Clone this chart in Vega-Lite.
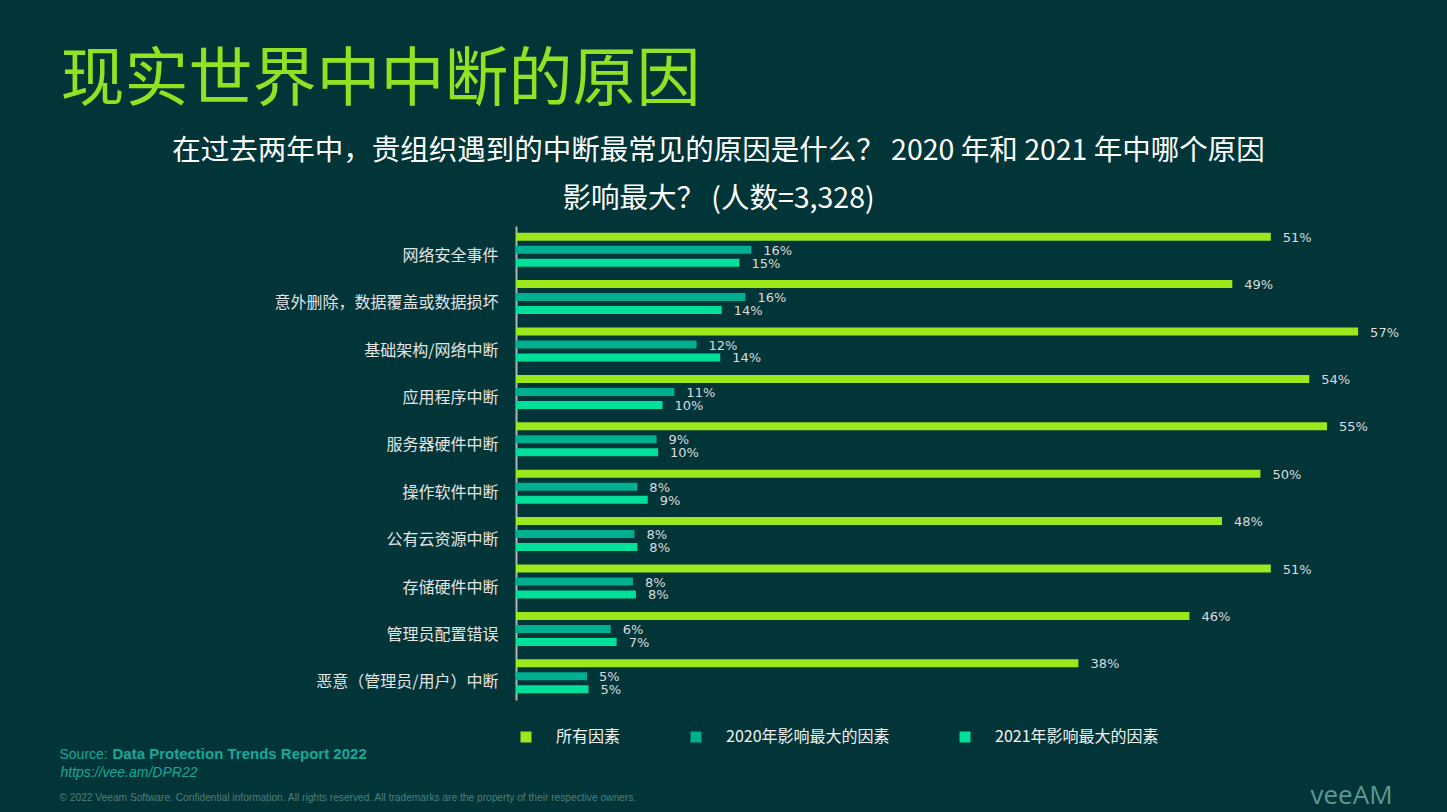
{
  "$schema": "https://vega.github.io/schema/vega-lite/v6.json",
  "autosize": "none",
  "width": 888,
  "height": 474,
  "padding": {"left": 516, "top": 226, "right": 43, "bottom": 112},
  "background": "#013538",
  "config": {
    "view": {"stroke": null},
    "font": "Noto Sans CJK SC",
    "axis": {"grid": false, "titleLimit": 3000, "titleAngle": 0}
  },
  "data": {
    "values": [
      {"cause": "网络安全事件", "series": "所有因素", "value": 51.0, "label": "51%"},
      {"cause": "网络安全事件", "series": "2020年影响最大的因素", "value": 15.9, "label": "16%"},
      {"cause": "网络安全事件", "series": "2021年影响最大的因素", "value": 15.1, "label": "15%"},
      {"cause": "意外删除，数据覆盖或数据损坏", "series": "所有因素", "value": 48.4, "label": "49%"},
      {"cause": "意外删除，数据覆盖或数据损坏", "series": "2020年影响最大的因素", "value": 15.5, "label": "16%"},
      {"cause": "意外删除，数据覆盖或数据损坏", "series": "2021年影响最大的因素", "value": 13.9, "label": "14%"},
      {"cause": "基础架构/网络中断", "series": "所有因素", "value": 56.9, "label": "57%"},
      {"cause": "基础架构/网络中断", "series": "2020年影响最大的因素", "value": 12.2, "label": "12%"},
      {"cause": "基础架构/网络中断", "series": "2021年影响最大的因素", "value": 13.8, "label": "14%"},
      {"cause": "应用程序中断", "series": "所有因素", "value": 53.6, "label": "54%"},
      {"cause": "应用程序中断", "series": "2020年影响最大的因素", "value": 10.7, "label": "11%"},
      {"cause": "应用程序中断", "series": "2021年影响最大的因素", "value": 9.9, "label": "10%"},
      {"cause": "服务器硬件中断", "series": "所有因素", "value": 54.8, "label": "55%"},
      {"cause": "服务器硬件中断", "series": "2020年影响最大的因素", "value": 9.5, "label": "9%"},
      {"cause": "服务器硬件中断", "series": "2021年影响最大的因素", "value": 9.6, "label": "10%"},
      {"cause": "操作软件中断", "series": "所有因素", "value": 50.3, "label": "50%"},
      {"cause": "操作软件中断", "series": "2020年影响最大的因素", "value": 8.2, "label": "8%"},
      {"cause": "操作软件中断", "series": "2021年影响最大的因素", "value": 8.9, "label": "9%"},
      {"cause": "公有云资源中断", "series": "所有因素", "value": 47.7, "label": "48%"},
      {"cause": "公有云资源中断", "series": "2020年影响最大的因素", "value": 8.0, "label": "8%"},
      {"cause": "公有云资源中断", "series": "2021年影响最大的因素", "value": 8.2, "label": "8%"},
      {"cause": "存储硬件中断", "series": "所有因素", "value": 51.0, "label": "51%"},
      {"cause": "存储硬件中断", "series": "2020年影响最大的因素", "value": 7.9, "label": "8%"},
      {"cause": "存储硬件中断", "series": "2021年影响最大的因素", "value": 8.1, "label": "8%"},
      {"cause": "管理员配置错误", "series": "所有因素", "value": 45.5, "label": "46%"},
      {"cause": "管理员配置错误", "series": "2020年影响最大的因素", "value": 6.4, "label": "6%"},
      {"cause": "管理员配置错误", "series": "2021年影响最大的因素", "value": 6.8, "label": "7%"},
      {"cause": "恶意（管理员/用户）中断", "series": "所有因素", "value": 38.0, "label": "38%"},
      {"cause": "恶意（管理员/用户）中断", "series": "2020年影响最大的因素", "value": 4.8, "label": "5%"},
      {"cause": "恶意（管理员/用户）中断", "series": "2021年影响最大的因素", "value": 4.9, "label": "5%"}
    ]
  },
  "resolve": {"axis": {"x": "independent", "y": "independent"}},
  "layer": [
    {
      "mark": {"type": "bar"},
      "encoding": {
        "y": {
          "field": "cause", "type": "nominal", "sort": null,
          "scale": {"paddingInner": 0.283, "paddingOuter": 0.1415},
          "axis": {
            "orient": "left", "ticks": false, "domain": true, "domainColor": "#B4B4B4", "domainWidth": 2,
            "labelColor": "#E4E4E4", "labelFontSize": 16, "labelFont": "Noto Sans CJK SC", "labelPadding": 18,
            "labelLimit": 400, "labelOffset": 6,
            "title": "https://vee.am/DPR22", "titleFont": "Liberation Sans", "titleFontStyle": "italic",
            "titleFontWeight": "normal", "titleFontSize": 14, "titleColor": "#19A898",
            "titleAlign": "left", "titleBaseline": "alphabetic", "titleX": -456, "titleY": 550
          }
        },
        "yOffset": {
          "field": "series", "type": "nominal",
          "scale": {"domain": ["所有因素", "2020年影响最大的因素", "2021年影响最大的因素"], "paddingInner": 0.385, "paddingOuter": 0}
        },
        "x": {
          "field": "value", "type": "quantitative",
          "scale": {"domain": [0, 60], "nice": false},
          "axis": {
            "orient": "top", "labels": false, "ticks": false, "domain": false,
            "title": ["在过去两年中，贵组织遇到的中断最常见的原因是什么？ 2020 年和 2021 年中哪个原因", "影响最大？ (人数=3,328)"],
            "titleFont": "Noto Sans CJK SC", "titleFontSize": 28.5, "titleFontWeight": "normal", "titleColor": "#FFFFFF",
            "titleAlign": "center", "titleBaseline": "alphabetic", "titleLineHeight": 48, "titleX": 202, "titleY": -67
          }
        },
        "color": {
          "field": "series", "type": "nominal",
          "scale": {"domain": ["所有因素", "2020年影响最大的因素", "2021年影响最大的因素"], "range": ["#9CE81C", "#00AF90", "#00E09A"]},
          "legend": {
            "orient": "none", "direction": "horizontal", "legendX": 2, "legendY": 503, "title": null,
            "symbolType": "square", "symbolSize": 121, "symbolStrokeWidth": 0,
            "labelFont": "Noto Sans CJK SC", "labelFontSize": 16, "labelColor": "#F2F2F2", "labelOffset": 22,
            "columnPadding": 67, "labelLimit": 400
          }
        }
      }
    },
    {
      "transform": [{"filter": "datum.series === '所有因素'"}],
      "mark": {"type": "text", "align": "left", "baseline": "middle", "dx": 12, "dy": 1, "font": "DejaVu Sans", "fontSize": 13, "color": "#DCDCDC"},
      "encoding": {
        "y": {"field": "cause", "type": "nominal", "sort": null, "axis": {"orient": "right", "labels": false, "ticks": false, "domain": false,
          "title": "veeAM", "titleFont": "Open Sans", "titleFontSize": 26, "titleFontWeight": "normal", "titleColor": "#5F9993",
          "titleAlign": "left", "titleBaseline": "alphabetic", "titleX": -94, "titleY": 577}},
        "yOffset": {"field": "series", "type": "nominal", "scale": {"domain": ["所有因素", "2020年影响最大的因素", "2021年影响最大的因素"], "paddingInner": 0.385, "paddingOuter": 0}},
        "x": {"field": "value", "type": "quantitative", "axis": {"orient": "top", "labels": false, "ticks": false, "domain": false,
          "title": "现实世界中中断的原因", "titleFont": "Noto Sans CJK SC", "titleFontSize": 64, "titleFontWeight": "normal", "titleColor": "#8FE322",
          "titleAlign": "left", "titleBaseline": "alphabetic", "titleX": -456, "titleY": -127}},
        "text": {"field": "label"}
      }
    },
    {
      "transform": [{"filter": "datum.series === '2020年影响最大的因素'"}],
      "mark": {"type": "text", "align": "left", "baseline": "middle", "dx": 12, "dy": 1, "font": "DejaVu Sans", "fontSize": 13, "color": "#DCDCDC"},
      "encoding": {
        "y": {"field": "cause", "type": "nominal", "sort": null, "axis": {"orient": "right", "labels": false, "ticks": false, "domain": false,
          "title": "© 2022 Veeam Software. Confidential information. All rights reserved. All trademarks are the property of their respective owners.",
          "titleFont": "Liberation Sans", "titleFontSize": 10.2, "titleFontWeight": "normal", "titleColor": "#4F7F7C",
          "titleAlign": "left", "titleBaseline": "alphabetic", "titleX": -1345, "titleY": 574}},
        "yOffset": {"field": "series", "type": "nominal", "scale": {"domain": ["所有因素", "2020年影响最大的因素", "2021年影响最大的因素"], "paddingInner": 0.385, "paddingOuter": 0}},
        "x": {"field": "value", "type": "quantitative", "axis": {"orient": "bottom", "labels": false, "ticks": false, "domain": false,
          "title": "Source:", "titleFont": "Liberation Sans", "titleFontSize": 14, "titleFontWeight": "normal", "titleColor": "#19A898",
          "titleAlign": "left", "titleBaseline": "alphabetic", "titleX": -457, "titleY": 58}},
        "text": {"field": "label"}
      }
    },
    {
      "transform": [{"filter": "datum.series === '2021年影响最大的因素'"}],
      "mark": {"type": "text", "align": "left", "baseline": "middle", "dx": 12, "dy": 1, "font": "DejaVu Sans", "fontSize": 13, "color": "#DCDCDC"},
      "encoding": {
        "y": {"field": "cause", "type": "nominal", "sort": null, "axis": null},
        "yOffset": {"field": "series", "type": "nominal", "scale": {"domain": ["所有因素", "2020年影响最大的因素", "2021年影响最大的因素"], "paddingInner": 0.385, "paddingOuter": 0}},
        "x": {"field": "value", "type": "quantitative", "axis": {"orient": "bottom", "labels": false, "ticks": false, "domain": false,
          "title": "Data Protection Trends Report 2022", "titleFont": "Liberation Sans", "titleFontSize": 15, "titleFontWeight": "bold", "titleColor": "#19A898",
          "titleAlign": "left", "titleBaseline": "alphabetic", "titleX": -404, "titleY": 58}},
        "text": {"field": "label"}
      }
    }
  ]
}
